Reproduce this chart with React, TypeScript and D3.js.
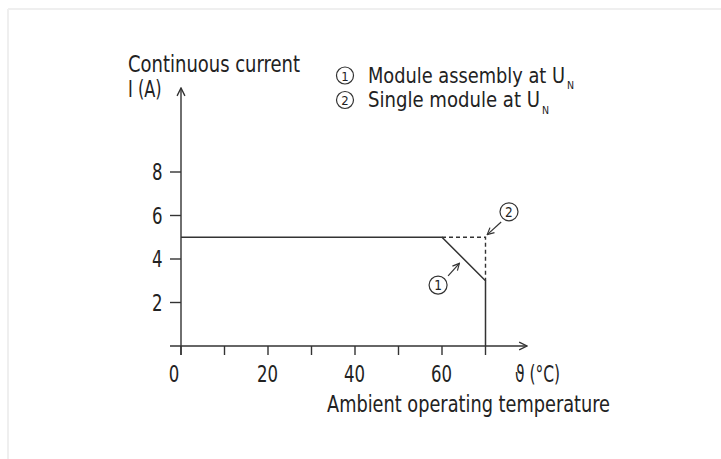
import React from "react";
import * as d3 from "d3";

// derating curve data (temperature °C, current A)
const assemblyCurve: [number, number][] = [
  [0, 5],
  [60, 5],
  [70, 3],
  [70, 0],
];
const singleCurve: [number, number][] = [
  [60, 5],
  [70, 5],
  [70, 3],
];
const xMajorTicks = [0, 20, 40, 60];
const xAllTicks = [0, 10, 20, 30, 40, 50, 60, 70];
const yTicks = [2, 4, 6, 8];
const legendItems = ["Module assembly at U", "Single module at U"];
const legendWidths = [197, 172];

// callouts in data units: circle centre, arrow from -> to
const callouts = [
  { label: "1", cx: 59.1, cy: 2.8, from: [61.4, 3.22], to: [64.0, 3.8] },
  { label: "2", cx: 75.4, cy: 6.17, from: [73.6, 5.7], to: [70.4, 5.12] },
];

const W = 721;
const H = 459;
const FONT = "'Liberation Sans Narrow', 'DejaVu Sans Condensed', 'DejaVu Sans', sans-serif";
const INK = "#333";
const TXT = "#222";
const SX = 0.8; // horizontal squeeze to mimic the condensed face

function T({ x, y, size = 22, anchor = "start", children }: any) {
  return (
    <text
      transform={`translate(${x},${y}) scale(${SX},1)`}
      fontSize={size}
      textAnchor={anchor}
      fill={TXT}
    >
      {children}
    </text>
  );
}

export default function App() {
  const x = d3.scaleLinear().domain([0, 70]).range([181, 485.5]);
  const y = d3.scaleLinear().domain([0, 8]).range([346, 172]);

  const line = d3
    .line<[number, number]>()
    .x((d) => x(d[0]))
    .y((d) => y(d[1]));

  const x0 = x(0);
  const y0 = y(0);

  return (
    <svg
      width={W}
      height={H}
      style={{ position: "absolute", left: 0, top: 0, background: "#fff" }}
      fontFamily={FONT}
    >
      <defs>
        <marker id="arr" viewBox="0 0 10 10" refX="9" refY="5" markerWidth="7" markerHeight="7" orient="auto">
          <path d="M1,1 L9,5 L1,9" fill="none" stroke={INK} strokeWidth="1.4" />
        </marker>
      </defs>

      {/* faint frame */}
      <line x1={8} x2={W} y1={9} y2={9} stroke="#efefef" strokeWidth={2} />
      <line x1={8} x2={8} y1={9} y2={H} stroke="#efefef" strokeWidth={2} />

      {/* axes */}
      <line x1={x0} x2={x0} y1={y0 + 9} y2={88} stroke={INK} strokeWidth={1.4} markerEnd="url(#arr)" />
      <line x1={170} x2={527} y1={y0} y2={y0} stroke={INK} strokeWidth={1.4} markerEnd="url(#arr)" />

      {yTicks.map((t) => (
        <g key={t}>
          <line x1={x0 - 11} x2={x0} y1={y(t)} y2={y(t)} stroke={INK} strokeWidth={1.4} />
          <T x={162.5} y={y(t) + 8.3} size={23} anchor="end">
            {t}
          </T>
        </g>
      ))}
      {xAllTicks.map((t) => (
        <line key={t} x1={x(t)} x2={x(t)} y1={y0} y2={y0 + 9} stroke={INK} strokeWidth={1.4} />
      ))}
      {xMajorTicks.map((t) => (
        <T key={t} x={t === 0 ? 174 : x(t) - 0.5} y={381.5} size={23} anchor="middle">
          {t}
        </T>
      ))}

      {/* axis titles */}
      <text x={128} y={71.5} fontSize={22.5} fill={TXT} textLength={172} lengthAdjust="spacingAndGlyphs">
        Continuous current
      </text>
      <T x={128} y={97} size={22.5}>
        I (A)
      </T>
      <text x={515} y={381.5} fontSize={22.5} fill={TXT} textLength={45} lengthAdjust="spacingAndGlyphs">
        ϑ (°C)
      </text>
      <text x={327} y={412} fontSize={22.5} fill={TXT} textLength={283} lengthAdjust="spacingAndGlyphs">
        Ambient operating temperature
      </text>

      {/* legend */}
      {legendItems.map((txt, i) => (
        <g key={i} transform={`translate(0, ${i * 24.5})`}>
          <circle cx={345} cy={75.5} r={8.5} fill="none" stroke={INK} strokeWidth={1.2} />
          <text x={345} y={80.5} fontSize={13} textAnchor="middle" fill={TXT}>
            {i + 1}
          </text>
          <text x={368} y={82.5} fontSize={21.5} fill={TXT}>
            <tspan textLength={legendWidths[i]} lengthAdjust="spacingAndGlyphs">
              {txt}
            </tspan>
            <tspan x={368 + legendWidths[i] + 2} dy={6.5} fontSize={10.5}>
              N
            </tspan>
          </text>
        </g>
      ))}

      {/* curves */}
      <path d={line(singleCurve) ?? ""} fill="none" stroke={INK} strokeWidth={1.4} strokeDasharray="4,3" />
      <path d={line(assemblyCurve) ?? ""} fill="none" stroke={INK} strokeWidth={1.5} />

      {/* callouts */}
      {callouts.map((c) => (
        <g key={c.label}>
          <circle cx={x(c.cx)} cy={y(c.cy)} r={9} fill="none" stroke={INK} strokeWidth={1.2} />
          <text x={x(c.cx)} y={y(c.cy) + 5} fontSize={13.5} textAnchor="middle" fill={TXT}>
            {c.label}
          </text>
          <line
            x1={x(c.from[0])}
            y1={y(c.from[1])}
            x2={x(c.to[0])}
            y2={y(c.to[1])}
            stroke={INK}
            strokeWidth={1.2}
            markerEnd="url(#arr)"
          />
        </g>
      ))}
    </svg>
  );
}
